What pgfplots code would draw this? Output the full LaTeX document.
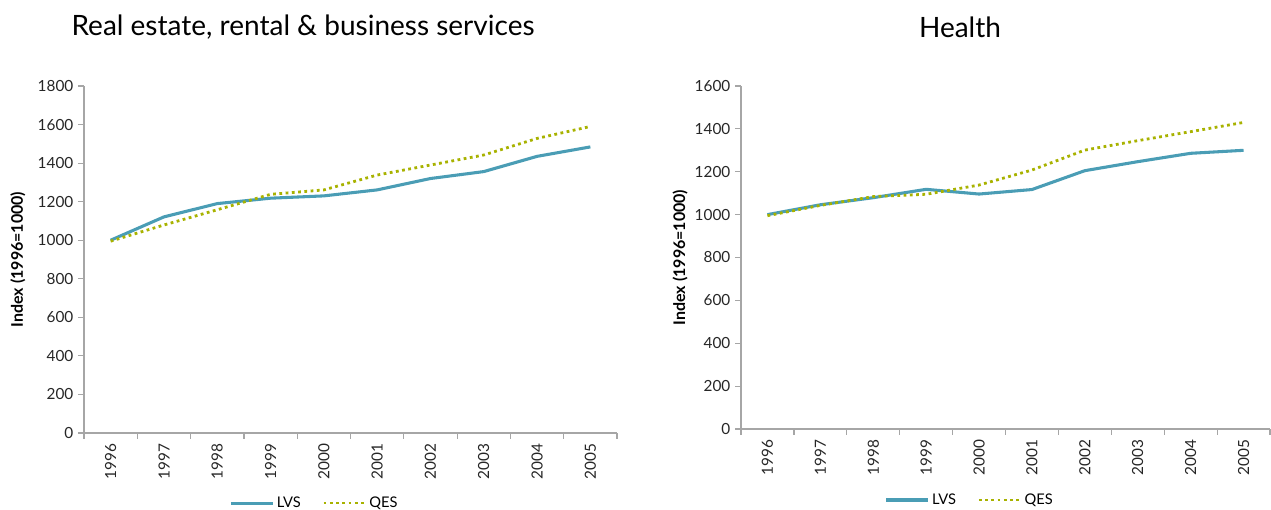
\documentclass[border=0pt]{standalone}
\usepackage{pgfplots}
\pgfplotsset{compat=1.18}
\usepackage{fontspec}
\setmainfont{Lato}
\definecolor{lvs}{RGB}{74,157,181}
\definecolor{qes}{RGB}{168,178,0}
\definecolor{axgray}{RGB}{166,166,166}
\definecolor{txt}{RGB}{38,38,38}
\pgfplotsset{
  mystyle/.style={
    scale only axis,
    axis x line=bottom, axis y line=left,
    axis line style={axgray, line width=0.9pt, -},
    xmin=-0.5, xmax=9.5, ymin=0,
    xtick={0,...,9},
    xticklabels={1996,1997,1998,1999,2000,2001,2002,2003,2004,2005},
    x tick label style={rotate=90, anchor=east, font=\fontsize{11.5}{13}\selectfont, text=txt},
    y tick label style={font=\fontsize{11.5}{13}\selectfont, text=txt},
    /pgf/number format/assume math mode=true,
    /pgf/number format/1000 sep={},
    major x tick style={draw=none},
    minor xtick={-0.5,0.5,...,9.5},
    minor tick length=4.5pt,
    major tick length=4.5pt,
    tick align=outside,
    tick style={axgray, line width=0.9pt},
    ylabel={\textbf{Index (1996=1000)}},
    ylabel style={font=\fontsize{12}{14}\selectfont, text=black},
    legend columns=2,
    legend style={draw=none, fill=none, font=\fontsize{11}{13}\selectfont, anchor=center,
      /tikz/every even column/.append style={column sep=14pt}},
    legend image code/.code={\draw[##1] (0cm,0cm) -- (1.1cm,0cm);},
    title style={font=\fontsize{21}{25}\selectfont},
  },
  lvsline/.style={color=lvs, line width=2.3pt, line join=round},
  qesline/.style={color=qes, line width=2.1pt, dash pattern=on 2.1pt off 2.6pt},
}
\begin{document}
\begin{tikzpicture}
\path[use as bounding box] (0pt,0pt) rectangle (953.25pt,382.5pt);
% left chart
\begin{axis}[mystyle,
  at={(63pt,57.75pt)}, anchor=south west,
  width=399.75pt, height=260.25pt,
  ymax=1800, ytick={0,200,...,1800},
  ylabel style={at={(axis description cs:-0.124,0.5)}, anchor=center},
  title={Real estate, rental \& business services},
  title style={at={(axis description cs:0.411,1.147)}, anchor=center},
  legend style={at={(axis description cs:0.433,-0.202)}},
]
\addplot[lvsline] coordinates {(0,1000) (1,1121) (2,1190) (3,1218) (4,1230) (5,1261) (6,1320) (7,1356) (8,1435) (9,1484)};
\addplot[qesline] coordinates {(0,995) (1,1079) (2,1158) (3,1238) (4,1261) (5,1338) (6,1390) (7,1442) (8,1528) (9,1590)};
\legend{LVS,QES}
\end{axis}
% right chart
\begin{axis}[mystyle,
  at={(555.75pt,60.75pt)}, anchor=south west,
  width=396.75pt, height=257.25pt,
  ymax=1600, ytick={0,200,...,1600},
  ylabel style={at={(axis description cs:-0.115,0.5)}, anchor=center},
  title={Health},
  title style={at={(axis description cs:0.414,1.149)}, anchor=center},
  legend style={at={(axis description cs:0.433,-0.207)}},
]
\addplot[lvsline] coordinates {(0,1000) (1,1046) (2,1079) (3,1118) (4,1096) (5,1117) (6,1205) (7,1247) (8,1286) (9,1300)};
\addplot[qesline] coordinates {(0,995) (1,1043) (2,1084) (3,1095) (4,1138) (5,1208) (6,1301) (7,1345) (8,1387) (9,1430)};
\legend{LVS,QES}
\end{axis}
\end{tikzpicture}
\end{document}
